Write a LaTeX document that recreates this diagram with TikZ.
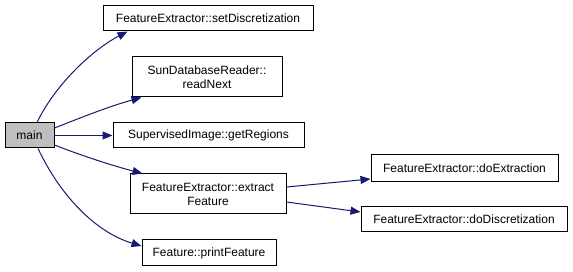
\documentclass[tikz,border=0pt]{standalone}
\usepackage{fontspec}
\setmainfont{Liberation Sans}
\usetikzlibrary{arrows.meta}

\definecolor{edgeblue}{HTML}{191970}
\definecolor{mainfill}{HTML}{BFBFBF}

\begin{document}
\begin{tikzpicture}[x=1pt, y=-1pt,
    fn/.style={draw=black, line width=1pt, fill=white, inner sep=0pt, align=center,
        font=\fontsize{12}{14}\selectfont},
    call/.style={edgeblue, line width=1pt, -{Triangle[length=10pt, width=8pt]}}]

    \useasboundingbox (0, 0) rectangle (573, 272);

    % caller
    \node[fn, fill=mainfill, minimum width=49pt, minimum height=25pt] (main) at (29.5, 135.5) {main};

    % functions called from main
    \node[fn, minimum width=210pt, minimum height=25pt] (setDisc) at (208, 18.5) {FeatureExtractor::setDiscretization};
    \node[fn, minimum width=150pt, minimum height=40pt] (readNext) at (207, 77) {SunDatabaseReader::\\readNext};
    \node[fn, minimum width=191pt, minimum height=25pt] (getRegions) at (208.5, 135.5) {SupervisedImage::getRegions};
    \node[fn, minimum width=156pt, minimum height=40pt] (extract) at (208, 194) {FeatureExtractor::extract\\Feature};
    \node[fn, minimum width=134pt, minimum height=26pt] (printFeat) at (209, 253) {Feature::printFeature};

    % functions called from extractFeature
    \node[fn, minimum width=187pt, minimum height=27pt] (doExtr) at (464.5, 168.5) {FeatureExtractor::doExtraction};
    \node[fn, minimum width=206pt, minimum height=25pt] (doDisc) at (464, 219.5) {FeatureExtractor::doDiscretization};

    \draw[call] ([xshift=7.5]main.north) .. controls (55, 85) and (92, 50) .. ([xshift=25]setDisc.south west);
    \draw[call] ([yshift=7.5]main.east) .. controls (80, 118) and (110, 106) .. ([xshift=10]readNext.south west);
    \draw[call] (main.east) -- (getRegions.west);
    \draw[call] ([yshift=-9.5]main.east) .. controls (80, 155) and (110, 165) .. ([xshift=13]extract.north west);
    \draw[call] ([xshift=8.5]main.south) .. controls (60, 195) and (95, 232) .. ([yshift=7]printFeat.west);

    \draw[call] ([yshift=7]extract.east) -- ([yshift=-10.5]doExtr.west);
    \draw[call] ([yshift=-8]extract.east) -- ([yshift=7.5]doDisc.west);

\end{tikzpicture}
\end{document}
